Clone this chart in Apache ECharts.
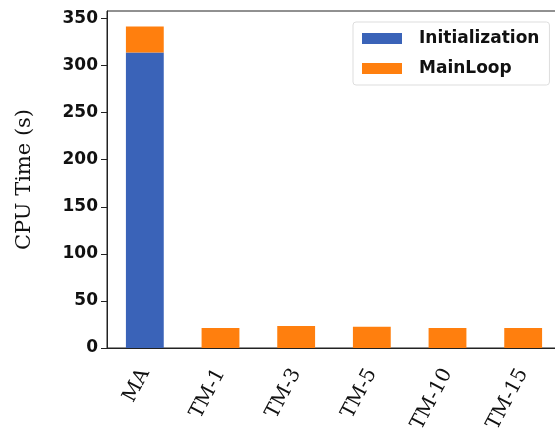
<!DOCTYPE html>
<html>
<head>
<meta charset="utf-8">
<script src="https://cdn.jsdelivr.net/npm/echarts@6/dist/echarts.min.js"></script>
<style>
  html, body { margin: 0; padding: 0; background: #fff; }
  #chart { width: 555px; height: 431px; }
</style>
</head>
<body>
<div id="chart"></div>
<script>
// data
var categories = ['MA', 'TM-1', 'TM-3', 'TM-5', 'TM-10', 'TM-15'];
var initialization = [314, 0, 0, 0, 0, 0];
var mainLoop = [27.5, 21.3, 23.4, 22.7, 21.3, 21.3];
var yTicks = [0, 50, 100, 150, 200, 250, 300, 350];

var chart = echarts.init(document.getElementById('chart'));

chart.setOption({
    animation: false,
    grid: {
        left: 107,
        top: 11,
        right: -6,
        bottom: 83,
        outerBoundsMode: 'none',
        show: true,
        borderColor: '#222',
        borderWidth: 1
    },
    legend: {
        orient: 'vertical',
        left: 353,
        top: 22,
        padding: [8, 10, 8, 9],
        itemWidth: 40,
        itemHeight: 11,
        itemGap: 13,
        borderColor: '#ddd',
        borderWidth: 1,
        borderRadius: 3,
        icon: 'rect',
        data: ['Initialization', 'MainLoop'],
        textStyle: {
            fontFamily: 'DejaVu Sans',
            fontWeight: 'bold',
            fontSize: 17,
            color: '#111',
            padding: [0, 0, 0, 12]
        }
    },
    xAxis: {
        type: 'category',
        data: categories,
        axisLine: { lineStyle: { color: '#222', width: 1 } },
        axisTick: { alignWithLabel: true, length: 5, lineStyle: { color: '#999' } },
        axisLabel: {
            rotate: 62,
            margin: 22,
            fontFamily: 'DejaVu Serif',
            fontSize: 20,
            color: '#111'
        }
    },
    yAxis: {
        type: 'value',
        min: 0,
        max: 358,
        interval: 50,
        name: 'CPU Time (s)',
        nameLocation: 'middle',
        nameGap: 72,
        nameTextStyle: { fontFamily: 'DejaVu Serif', fontSize: 21, color: '#111' },
        splitLine: { show: false },
        axisLine: { show: true, lineStyle: { color: '#222', width: 1 } },
        axisTick: { show: true, length: 6, lineStyle: { color: '#222' } },
        axisLabel: {
            margin: 9,
            fontFamily: 'DejaVu Sans',
            fontWeight: 'bold',
            fontSize: 17,
            color: '#111',
            showMaxLabel: false,
            formatter: function (v) { return yTicks.indexOf(v) >= 0 ? String(v) : ''; }
        }
    },
    series: [
        {
            name: 'Initialization',
            type: 'bar',
            stack: 'cpu',
            barWidth: '50%',
            itemStyle: { color: '#3a63b8' },
            data: initialization
        },
        {
            name: 'MainLoop',
            type: 'bar',
            stack: 'cpu',
            barWidth: '50%',
            itemStyle: { color: '#ff7f0e' },
            data: mainLoop
        }
    ]
});
</script>
</body>
</html>
